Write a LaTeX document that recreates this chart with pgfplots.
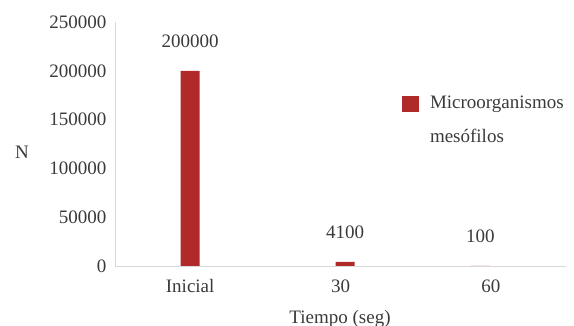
\documentclass[border=0pt]{standalone}
\usepackage{pgfplots}
\pgfplotsset{compat=1.18}
\usepackage{fontspec}
\setmainfont{Liberation Serif}
\definecolor{barred}{HTML}{B02A2A}
\definecolor{txt}{HTML}{3A3A3A}
\definecolor{axgray}{HTML}{D9D9D9}
\begin{document}
\fontsize{19bp}{22bp}\selectfont
\begin{tikzpicture}
\useasboundingbox (-115bp,-60bp) rectangle (459bp,266bp);
\begin{axis}[
  scale only axis,
  width=451bp, height=244bp,
  xmin=-0.5, xmax=2.5,
  ymin=0, ymax=250000,
  ytick={0,50000,100000,150000,200000,250000},
  xtick={0,1,2},
  xticklabels={Inicial,30,60},
  scaled y ticks=false,
  /pgf/number format/.cd, fixed, 1000 sep={}, assume math mode=true,
  /pgfplots/.cd,
  axis x line*=bottom, axis y line*=left,
  axis line style={axgray, line width=0.9pt},
  tick style={draw=none},
  every tick label/.style={font=\fontsize{19bp}{22bp}\selectfont, text=txt},
  yticklabel style={xshift=-2bp},
  xticklabel style={yshift=-3bp},
  ylabel={N},
  ylabel style={rotate=-90, at={(axis description cs:-0.206,0.467)}, anchor=center, font=\fontsize{19bp}{22bp}\selectfont, text=txt},
  xlabel={Tiempo (seg)},
  xlabel style={at={(axis description cs:0.499,-0.215)}, anchor=center, font=\fontsize{19bp}{22bp}\selectfont, text=txt},
  ybar, bar width=19bp,
  nodes near coords,
  nodes near coords style={font=\fontsize{19bp}{22bp}\selectfont, text=txt, yshift=17bp},
  point meta=explicit symbolic,
  legend style={at={(axis description cs:0.636,0.704)}, anchor=north west, draw=none, fill=none, inner sep=0pt,
    font=\fontsize{19bp}{22bp}\selectfont, text=txt, cells={align=left}},
  legend image code/.code={\fill[#1] (0bp,9bp) rectangle (17bp,25bp); \path (26bp,17bp) coordinate (lgx);},
]
\addplot[fill=barred, draw=none] coordinates {(0,200000)[200000] (1.03,4100)[4100] (1.93,100)[100]};
\legend{Microorganismos\\[12bp]mesófilos}
\end{axis}
\end{tikzpicture}
\end{document}
